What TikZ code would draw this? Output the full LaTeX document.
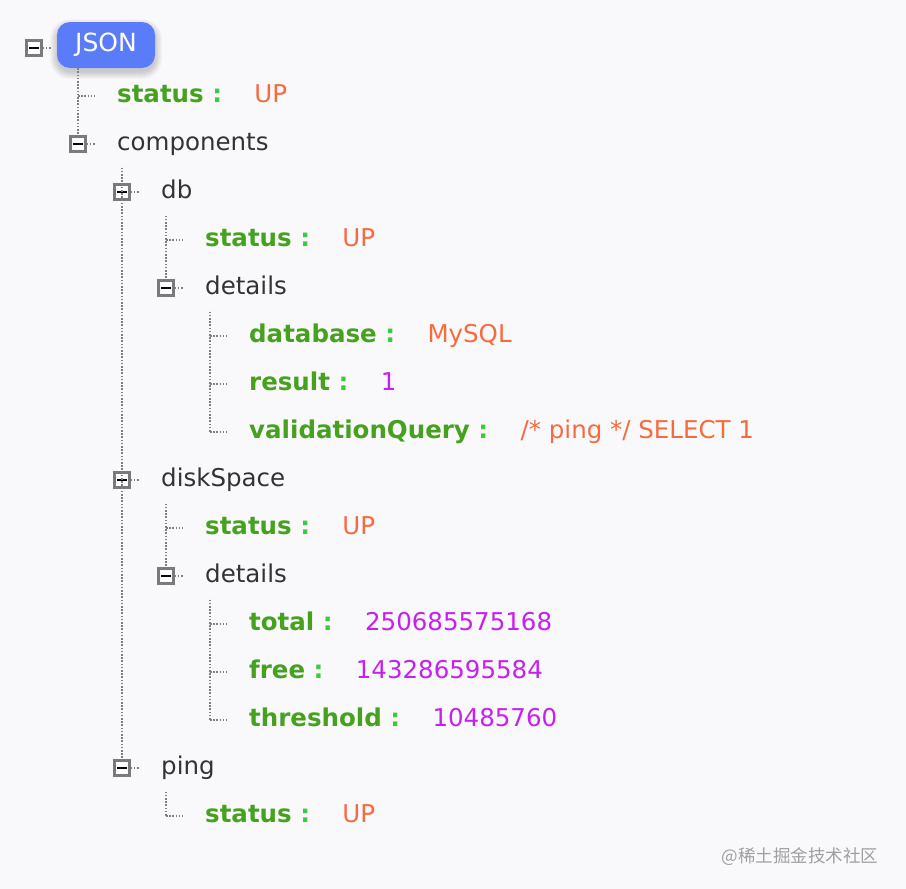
\documentclass[tikz,border=0pt]{standalone}
\usepackage{fontspec}
\setmainfont{DejaVu Sans}
\newfontfamily\cjkfont{Noto Sans CJK SC}
\usepackage{tikz}
\usetikzlibrary{positioning}

\definecolor{bgpage}{HTML}{F9F9FC}
\definecolor{keygreen}{HTML}{46A11E}
\definecolor{colongreen}{HTML}{3CCB3C}
\definecolor{strorange}{HTML}{F66B3E}
\definecolor{nummagenta}{HTML}{C620EE}
\definecolor{plaingray}{HTML}{333333}
\definecolor{jsonblue}{HTML}{5B7CF8}
\definecolor{togborder}{HTML}{7A7A7A}
\definecolor{dotgray}{HTML}{808080}

\newcommand{\kcolon}{{\color{colongreen}:}}

\tikzset{
  txt/.style={inner sep=0pt, anchor=base west, font=\fontsize{24.5}{29}\selectfont},
  key/.style={txt, text=keygreen, font=\fontsize{24.5}{29}\selectfont\bfseries},
  str/.style={txt, text=strorange},
  num/.style={txt, text=nummagenta},
  plain/.style={txt, text=plaingray},
  tog/.style={draw=togborder, line width=2.2pt, fill=white, minimum size=15pt, inner sep=0pt,
    path picture={\draw[black, line width=2.6pt] ([xshift=-5pt]path picture bounding box.center)
      -- ([xshift=5pt]path picture bounding box.center);}},
  dots/.style={dotgray, line width=1.5pt, dash pattern=on 1.5pt off 1.7pt},
  jsonbox/.style={fill=jsonblue, rounded corners=13pt, minimum width=98pt, minimum height=46pt,
    text=white, font=\fontsize{25}{29}\selectfont},
}

\begin{document}
\begin{tikzpicture}[x=1pt, y=-1pt]
  \useasboundingbox[fill=bgpage] (0,0) rectangle (906,889);

  % soft shadow under the root label
  \foreach \s in {0,1,...,7}
    \fill[black, opacity=0.022, rounded corners={13pt+\s pt}] (57-\s, 26-\s) rectangle (155+\s, 72+\s);

  % root
  \node[tog] (t-root) at (34,48) {};
  \node[jsonbox] (json) at (106,45) {JSON};

  % level 1
  \coordinate (j-st1) at (78,96);
  \node[key] (k-st1) at (117,102) {status \kcolon};
  \node[str, base right=32pt of k-st1] (v-st1) {UP};
  \node[tog] (t-comp) at (78,144) {};
  \node[plain] (comp) at (117,150) {components};

  % db
  \node[tog] (t-db) at (122,192) {};
  \node[plain] (db) at (161,198) {db};
  \coordinate (j-dbst) at (166,240);
  \node[key] (k-dbst) at (205,246) {status \kcolon};
  \node[str, base right=32pt of k-dbst] (v-dbst) {UP};
  \node[tog] (t-dbdet) at (166,288) {};
  \node[plain] (dbdet) at (205,294) {details};
  \coordinate (j-dbase) at (210,336);
  \node[key] (k-dbase) at (249,342) {database \kcolon};
  \node[str, base right=32pt of k-dbase] (v-dbase) {MySQL};
  \coordinate (j-res) at (210,384);
  \node[key] (k-res) at (249,390) {result \kcolon};
  \node[num, base right=32pt of k-res] (v-res) {1};
  \coordinate (j-vq) at (210,432);
  \node[key] (k-vq) at (249,438) {validationQuery \kcolon};
  \node[str, base right=32pt of k-vq] (v-vq) {/* ping */ SELECT 1};

  % diskSpace
  \node[tog] (t-disk) at (122,480) {};
  \node[plain] (disk) at (161,486) {diskSpace};
  \coordinate (j-dkst) at (166,528);
  \node[key] (k-dkst) at (205,534) {status \kcolon};
  \node[str, base right=32pt of k-dkst] (v-dkst) {UP};
  \node[tog] (t-dkdet) at (166,576) {};
  \node[plain] (dkdet) at (205,582) {details};
  \coordinate (j-tot) at (210,624);
  \node[key] (k-tot) at (249,630) {total \kcolon};
  \node[num, base right=32pt of k-tot] (v-tot) {250685575168};
  \coordinate (j-free) at (210,672);
  \node[key] (k-free) at (249,678) {free \kcolon};
  \node[num, base right=32pt of k-free] (v-free) {143286595584};
  \coordinate (j-thr) at (210,720);
  \node[key] (k-thr) at (249,726) {threshold \kcolon};
  \node[num, base right=32pt of k-thr] (v-thr) {10485760};

  % ping
  \node[tog] (t-ping) at (122,768) {};
  \node[plain] (ping) at (161,774) {ping};
  \coordinate (j-pgst) at (166,816);
  \node[key] (k-pgst) at (205,822) {status \kcolon};
  \node[str, base right=32pt of k-pgst] (v-pgst) {UP};

  % tree lines
  \draw[dots] (json.south -| t-comp) -- (t-comp.north);
  \draw[dots] ([yshift=-15pt]t-comp.south -| t-db) -- (t-ping.north);
  \draw[dots] ([yshift=-15pt]t-db.south -| t-dbdet) -- (t-dbdet.north);
  \draw[dots] ([yshift=-15pt]t-dbdet.south -| j-dbase) -- (j-vq);
  \draw[dots] ([yshift=-15pt]t-disk.south -| t-dkdet) -- (t-dkdet.north);
  \draw[dots] ([yshift=-15pt]t-dkdet.south -| j-tot) -- (j-thr);
  \draw[dots] ([yshift=-15pt]t-ping.south -| j-pgst) -- (j-pgst);
  \foreach \j in {st1,dbst,dbase,res,vq,dkst,tot,free,thr,pgst}
    \draw[dots] (j-\j) -- ++(17,0);
  \foreach \t in {root,comp,db,dbdet,disk,dkdet,ping}
    \draw[dots] (t-\t.east) -- ++(9,0);

  \node[text=gray!75, font=\cjkfont\fontsize{17.5}{20}\selectfont, anchor=east] (mark) at (882,857) {@稀土掘金技术社区};
\end{tikzpicture}
\end{document}
